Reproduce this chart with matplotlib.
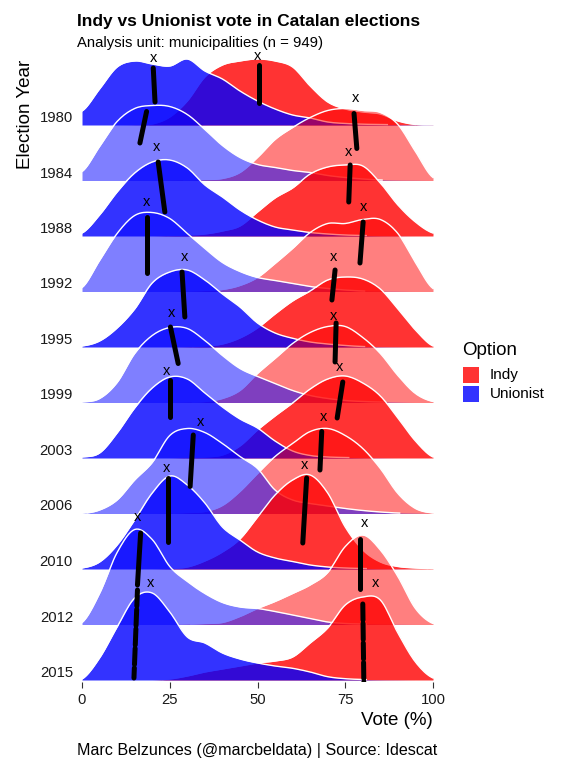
import numpy as np
import matplotlib
matplotlib.use("Agg")
import matplotlib.pyplot as plt
from matplotlib.patches import Rectangle

plt.rcParams['font.family'] = ['Liberation Sans', 'DejaVu Sans']

# --- data ---------------------------------------------------------------
years = [1980, 1984, 1988, 1992, 1995, 1999, 2003, 2006, 2010, 2012, 2015]
vote = [0, 5, 10, 15, 20, 25, 30, 35, 40, 45, 50,
        55, 60, 65, 70, 75, 80, 85, 90, 95, 100]

# ridge heights (55.5 = one row), one row per year, sampled every 5 points
unionist_heights = [
    [14, 36, 58, 64, 61, 59, 66, 54, 46, 34, 24, 16, 10, 7, 3, 1.5, 0.8, 0.5, 0.3, 0.2, 0.1],
    [9, 34, 59, 72, 75, 74, 66, 51, 35, 23, 16, 13, 10, 8, 5, 3, 1.5, 0.5, 0.2, 0.1, 0],
    [3, 21, 44, 63, 74, 76, 68, 51, 39, 26, 16, 9, 6, 3.5, 2, 1, 0.5, 0.2, 0.1, 0, 0],
    [4, 31, 58, 76, 79, 73, 58, 43, 29, 20, 14, 11, 8, 5, 3, 1.5, 0.5, 0.2, 0.1, 0, 0],
    [1, 6, 19, 38, 64, 75, 77, 67, 53, 40, 24, 14, 8.7, 5, 3, 1.5, 0.5, 0.2, 0.1, 0, 0],
    [0.5, 4, 20, 49, 67, 75, 74, 62, 47, 34, 26, 19, 12, 7, 4, 2, 1, 0.5, 0.2, 0, 0],
    [1, 5, 25, 50, 70, 81, 79, 65, 51, 39, 30, 17, 7, 2.5, 1, 0.5, 0.2, 0.1, 0, 0, 0],
    [0, 3.5, 13.5, 33.5, 51, 78, 85, 81, 70, 57, 45, 23.5, 13.5, 10, 7.5, 5, 3, 1.5, 0.5, 0.2, 0],
    [1, 7, 24, 49, 76, 93, 84, 66, 42, 29, 17, 11, 7.5, 4, 2, 1, 0.5, 0.2, 0.1, 0, 0],
    [2, 31, 72, 95, 85, 58, 43, 31, 22, 17.5, 16, 13, 9.5, 6, 2.5, 1, 0.5, 0.2, 0.1, 0, 0],
    [1, 22, 53, 82, 87, 68, 43, 37, 27, 21, 17, 14, 11.7, 8, 3.3, 1.3, 0.5, 0.2, 0.1, 0, 0],
]
indy_heights = [
    [0, 0, 0, 0.2, 1, 8, 24, 48, 60, 64, 66, 64, 58, 39, 23, 16, 13, 11, 4, 0.5, 0.1],
    [0, 0, 0, 0, 0, 0.2, 0.5, 1, 2, 8, 23, 41, 53, 63, 70, 72, 70, 68, 56, 29, 3],
    [0, 0, 0, 0, 0, 0.5, 1, 2, 5, 10, 24, 38, 48, 62, 69, 71, 70, 53, 31, 14, 3],
    [0, 0, 0, 0, 0, 0, 0.5, 1, 2, 6, 14, 28, 43, 59, 68, 68, 72, 72, 58, 29, 3],
    [0, 0, 0, 0, 0, 0, 0.3, 1, 3, 9, 19, 33, 46, 56, 67, 70, 68, 58, 38, 17, 1],
    [0, 0, 0, 0, 0, 0, 0.3, 1, 4, 12, 29, 44, 59, 70, 76, 76, 65, 49, 27, 9, 1],
    [0, 0, 0, 0, 0, 0, 0.5, 1, 3, 12, 28, 42, 55, 69, 79, 82, 75, 62, 40, 17, 1],
    [0, 0, 0, 0, 0, 0.3, 1, 2, 8, 22, 40, 57, 70, 82, 85, 78, 65, 45, 20, 5, 0.5],
    [0, 0, 0, 0, 0, 0.5, 2, 8, 17, 30, 52, 74, 89, 94, 76, 42, 19, 7, 2.5, 1, 0.3],
    [0, 0, 0, 0, 0, 0, 0.3, 1, 2, 8, 16, 23, 31, 39.5, 52, 78, 89.5, 74.5, 48, 16, 1],
    [0, 0, 0, 0, 0, 1, 4, 8, 11, 14, 17, 19, 23, 37, 52, 75, 83, 80, 47, 18, 2],
]

# "x" marks (vote, height) and the black segments under them
unionist_mark = [20.5, None, 21.1, 18.5, 29.3, 25.4, 24.2, 33.9, 24.2, 15.7, 19.6]
unionist_mark_h = [67, None, 89, 90, 90, 89.5, 87, 91.5, 101, 107.5, 97]
indy_mark = [50.1, 78.0, 75.8, 80.1, 71.8, 71.8, 73.5, 68.9, 63.5, 80.6, 83.5]
indy_mark_h = [69, 82.5, 84, 84.5, 90, 86.5, 91, 96.5, 104, 101.5, 97]

unionist_line_top = [20.3, 18.4, 21.7, 18.5, 28.5, 25.2, 25.1, 31.7, 24.6, 16.7, 15.8]
unionist_line_bottom = [20.8, 16.5, 23.6, 18.5, 29.3, 27.4, 25.1, 30.8, 24.6, 15.8, 14.8]
unionist_line_top_h = [57, 69, 74, 74.5, 75, 75.5, 78, 78.5, 91, 91.5, 90]
unionist_line_bottom_h = [23, 37.5, 24, 18.5, 30, 39, 41, 27, 27, 39.5, 2]
indy_line_top = [50.4, 77.5, 76.4, 80.1, 72.1, 72.4, 74.3, 68.3, 64.0, 79.2, 80.0]
indy_line_bottom = [50.4, 78.3, 76.0, 79.2, 71.2, 72.1, 72.7, 67.8, 62.9, 79.2, 80.3]
indy_line_top_h = [60, 67, 71, 69.5, 77, 79.5, 76, 82, 91, 86, 76]
indy_line_bottom_h = [22, 32, 34, 28.5, 47, 40.5, 40, 43.5, 26, 36, -3]

options = ["Indy", "Unionist"]
colors = {"Indy": "#FF0000", "Unionist": "#0000FF"}


def smooth(x, y, n=10):
    """Catmull-Rom pass through the read points, only for drawing."""
    x = np.asarray(x, float)
    y = np.asarray(y, float)
    xp = np.concatenate([[2 * x[0] - x[1]], x, [2 * x[-1] - x[-2]]])
    yp = np.concatenate([[y[0]], y, [y[-1]]])
    xs, ys = [], []
    t = np.linspace(0, 1, n, endpoint=False)
    for i in range(1, len(xp) - 2):
        p0, p1, p2, p3 = yp[i - 1], yp[i], yp[i + 1], yp[i + 2]
        ys.append(0.5 * (2 * p1 + (-p0 + p2) * t + (2 * p0 - 5 * p1 + 4 * p2 - p3) * t ** 2
                         + (-p0 + 3 * p1 - 3 * p2 + p3) * t ** 3))
        xs.append(xp[i] + (xp[i + 1] - xp[i]) * t)
    xs.append([x[-1]])
    ys.append([y[-1]])
    return np.concatenate(xs), np.clip(np.concatenate(ys), 0, None)


row = 55.5  # ridge units per row
W, H = 561, 777
fig = plt.figure(figsize=(W / 100, H / 100), dpi=100)
ax = fig.add_axes([78.5 / W, 1 - 682 / H, 358 / W, 637 / H])

n = len(years)
for i, year in enumerate(years):
    base = n - 1 - i
    alpha = 0.8 if i % 2 == 0 else 0.5
    for opt, heights in (("Indy", indy_heights[i]), ("Unionist", unionist_heights[i])):
        xs, hs = smooth(vote, heights)
        top = base + hs / row
        ax.fill_between(xs, base, top, color=colors[opt], alpha=alpha, lw=0, zorder=2 + i)
        edge = np.where(hs > 0.4, top, np.nan)
        ax.plot(xs, edge, color="white", lw=1.0, zorder=2 + i)

for i, year in enumerate(years):
    base = n - 1 - i
    # the last row's segments show small breaks in the original
    ls = (0, (3.2, 0.7)) if i == n - 1 else "-"
    ax.plot([unionist_line_top[i], unionist_line_bottom[i]],
            [base + unionist_line_top_h[i] / row, base + unionist_line_bottom_h[i] / row],
            color="black", lw=3.6, ls=ls, solid_capstyle="round",
            dash_capstyle="round", zorder=50)
    ax.plot([indy_line_top[i], indy_line_bottom[i]],
            [base + indy_line_top_h[i] / row, base + indy_line_bottom_h[i] / row],
            color="black", lw=3.6, ls=ls, solid_capstyle="round",
            dash_capstyle="round", zorder=50)
    if unionist_mark[i] is not None:
        ax.text(unionist_mark[i], base + unionist_mark_h[i] / row, "x",
                ha="center", va="center", fontsize=10.5, zorder=51)
    ax.text(indy_mark[i], base + indy_mark_h[i] / row, "x",
            ha="center", va="center", fontsize=10.5, zorder=51)

ax.set_xlim(-1, 101)
ax.set_ylim(-2 / row, (682 - 45 - 2) / row)
ax.set_xticks([0, 25, 50, 75, 100])
ax.set_yticks(range(n))
ax.set_yticklabels(years[::-1], va="bottom")
ax.tick_params(axis="y", length=0, pad=4, labelsize=10.7, labelcolor="#1a1a1a")
ax.tick_params(axis="x", length=4, width=0.8, color="#333333", pad=4,
               labelsize=10.7, labelcolor="#1a1a1a")
for s in ax.spines.values():
    s.set_visible(False)

ax.set_xlabel("Vote (%)", loc="right", fontsize=13.5)
ax.xaxis.set_label_coords((433 - 78.5) / 358, (682 - 712) / 637)
ax.set_ylabel("Election Year", loc="top", fontsize=13.5)
ax.yaxis.set_label_coords(-0.125, (682 - 60) / 637)

fig.text(77 / W, 1 - 26 / H, "Indy vs Unionist vote in Catalan elections",
         fontsize=12.5, fontweight="bold", va="baseline")
fig.text(77 / W, 1 - 47 / H, "Analysis unit: municipalities (n = 949)",
         fontsize=10.7, va="baseline")
fig.text(257.5 / W, 1 - 755 / H, "Marc Belzunces (@marcbeldata) | Source: Idescat",
         fontsize=11.6, ha="center", va="baseline")

# legend
fig.text(462 / W, 1 - 355 / H, "Option", fontsize=13.5, va="baseline")
for k, opt in enumerate(options):
    y0 = 366.7 + 19 * k
    fig.add_artist(Rectangle((462.7 / W, 1 - (y0 + 16) / H), 16.6 / W, 16 / H,
                             transform=fig.transFigure, facecolor=colors[opt],
                             alpha=0.8, lw=0))
    fig.text(490 / W, 1 - (y0 + 8) / H, opt, fontsize=11, va="center")

fig.savefig("out.png", dpi=100)
